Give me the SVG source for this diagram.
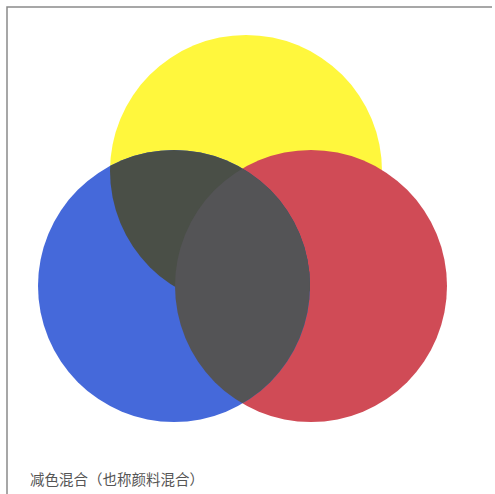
<svg xmlns="http://www.w3.org/2000/svg" width="495" height="494" viewBox="0 0 495 494">
<style>
.frame{stroke:#8a8a8a;stroke-width:1.5;fill:none}
.label{font-family:"Noto Sans CJK SC","Noto Sans",sans-serif;font-size:14.5px;fill:#555}
</style>
<defs>
<clipPath id="clipBlue"><circle cx="174" cy="286" r="136"/></clipPath>
</defs>
<rect width="495" height="494" fill="#fff"/>
<path class="frame" d="M7 494 V7 H492"/>
<g id="yellow"><circle cx="246" cy="171" r="136" fill="#fff73d"/></g>
<g id="red"><circle cx="311" cy="286" r="136" fill="#d04b56"/></g>
<g id="blue"><circle cx="174" cy="286" r="136" fill="#4569da"/></g>
<g id="blue-yellow" clip-path="url(#clipBlue)"><circle cx="246" cy="171" r="136" fill="#4a4f47"/></g>
<g id="blue-red" clip-path="url(#clipBlue)"><circle cx="311" cy="286" r="136" fill="#545456"/></g>
<text class="label" x="30" y="485">减色混合（也称颜料混合）</text>
</svg>
